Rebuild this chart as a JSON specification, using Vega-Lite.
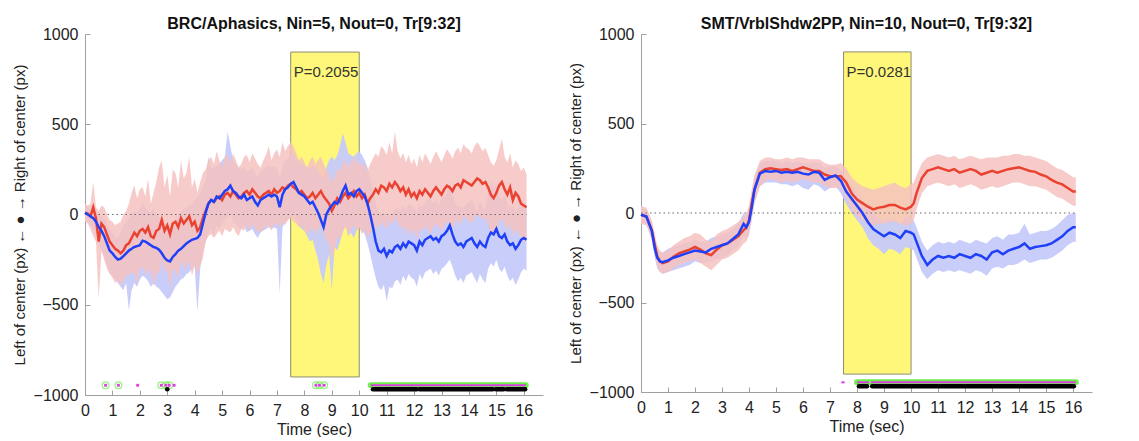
{
  "$schema": "https://vega.github.io/schema/vega-lite/v6.json",
  "padding": {"left": 12, "top": 16, "right": 5, "bottom": 0},
  "background": "white",
  "spacing": 25,
  "config": {
    "view": {"stroke": null},
    "font": "Liberation Sans",
    "axis": {"domainColor": "#a0a0a0", "tickColor": "#a0a0a0", "tickSize": -5, "labelFontSize": 16, "labelColor": "#222", "titleFontSize": 16, "titleFontWeight": "normal", "titleColor": "#222", "grid": false, "labelFlush": false, "labelOverlap": false, "titleLimit": 2000},
    "axisX": {"labelPadding": 12, "titlePadding": 3, "labelOverlap": false, "tickCount": 17},
    "axisY": {"labelPadding": 12, "titlePadding": 6, "titleFontSize": 15},
    "title": {"fontSize": 16, "fontWeight": "bold", "color": "#111", "offset": -6}
  },
  "datasets": {
    "p1": [
{"t":0.0,"r":10,"rl":-40,"rh":60,"b":10,"bl":-30,"bh":60},
{"t":0.1,"r":5,"rl":-50,"rh":50,"b":0,"bl":-40,"bh":40},
{"t":0.2,"r":-10,"rl":-80,"rh":60,"b":-10,"bl":-60,"bh":30},
{"t":0.3,"r":40,"rl":-120,"rh":180,"b":-20,"bl":-80,"bh":30},
{"t":0.4,"r":-20,"rl":-150,"rh":40,"b":-40,"bl":-100,"bh":20},
{"t":0.5,"r":-150,"rl":-470,"rh":20,"b":-70,"bl":-160,"bh":0},
{"t":0.6,"r":-50,"rl":-200,"rh":50,"b":-90,"bl":-200,"bh":-10},
{"t":0.7,"r":-70,"rl":-250,"rh":40,"b":-120,"bl":-230,"bh":-20},
{"t":0.8,"r":-110,"rl":-300,"rh":0,"b":-160,"bl":-280,"bh":-50},
{"t":0.9,"r":-150,"rl":-330,"rh":-30,"b":-200,"bl":-320,"bh":-80},
{"t":1.0,"r":-170,"rl":-350,"rh":-40,"b":-215,"bl":-340,"bh":-100},
{"t":1.1,"r":-190,"rl":-380,"rh":-60,"b":-235,"bl":-360,"bh":-120},
{"t":1.2,"r":-200,"rl":-360,"rh":-50,"b":-250,"bl":-380,"bh":-130},
{"t":1.3,"r":-215,"rl":-400,"rh":-40,"b":-245,"bl":-400,"bh":-100},
{"t":1.4,"r":-200,"rl":-370,"rh":0,"b":-230,"bl":-420,"bh":-60},
{"t":1.5,"r":-170,"rl":-340,"rh":20,"b":-215,"bl":-380,"bh":-40},
{"t":1.6,"r":-160,"rl":-330,"rh":60,"b":-200,"bl":-530,"bh":-20},
{"t":1.7,"r":-130,"rl":-330,"rh":120,"b":-190,"bl":-420,"bh":0},
{"t":1.8,"r":-100,"rl":-320,"rh":160,"b":-180,"bl":-380,"bh":20},
{"t":1.9,"r":-120,"rl":-390,"rh":90,"b":-175,"bl":-400,"bh":10},
{"t":2.0,"r":-90,"rl":-300,"rh":140,"b":-170,"bl":-360,"bh":30},
{"t":2.1,"r":-80,"rl":-290,"rh":150,"b":-145,"bl":-340,"bh":60},
{"t":2.2,"r":-100,"rl":-340,"rh":100,"b":-150,"bl":-350,"bh":40},
{"t":2.3,"r":-70,"rl":-300,"rh":200,"b":-160,"bl":-370,"bh":20},
{"t":2.4,"r":-120,"rl":-320,"rh":60,"b":-170,"bl":-400,"bh":10},
{"t":2.5,"r":-130,"rl":-400,"rh":120,"b":-180,"bl":-380,"bh":30},
{"t":2.6,"r":-90,"rl":-320,"rh":180,"b":-185,"bl":-400,"bh":0},
{"t":2.7,"r":-80,"rl":-330,"rh":260,"b":-195,"bl":-410,"bh":-10},
{"t":2.8,"r":-30,"rl":-250,"rh":300,"b":-215,"bl":-430,"bh":-20},
{"t":2.9,"r":-90,"rl":-330,"rh":150,"b":-240,"bl":-450,"bh":-50},
{"t":3.0,"r":-60,"rl":-290,"rh":220,"b":-255,"bl":-470,"bh":-60},
{"t":3.1,"r":-110,"rl":-420,"rh":100,"b":-260,"bl":-460,"bh":-70},
{"t":3.2,"r":-50,"rl":-320,"rh":250,"b":-235,"bl":-430,"bh":-40},
{"t":3.3,"r":-40,"rl":-300,"rh":230,"b":-220,"bl":-400,"bh":-30},
{"t":3.4,"r":-70,"rl":-360,"rh":150,"b":-200,"bl":-380,"bh":0},
{"t":3.5,"r":-20,"rl":-250,"rh":300,"b":-190,"bl":-360,"bh":10},
{"t":3.6,"r":-50,"rl":-290,"rh":200,"b":-175,"bl":-350,"bh":30},
{"t":3.7,"r":-30,"rl":-300,"rh":230,"b":-160,"bl":-330,"bh":40},
{"t":3.8,"r":-10,"rl":-250,"rh":320,"b":-150,"bl":-320,"bh":50},
{"t":3.9,"r":-60,"rl":-340,"rh":150,"b":-140,"bl":-300,"bh":60},
{"t":4.0,"r":-40,"rl":-280,"rh":200,"b":-135,"bl":-290,"bh":80},
{"t":4.1,"r":-90,"rl":-330,"rh":120,"b":-130,"bl":-540,"bh":100},
{"t":4.2,"r":-70,"rl":-290,"rh":180,"b":-110,"bl":-300,"bh":120},
{"t":4.3,"r":-20,"rl":-240,"rh":230,"b":-50,"bl":-200,"bh":150},
{"t":4.4,"r":20,"rl":-150,"rh":250,"b":10,"bl":-150,"bh":200},
{"t":4.5,"r":60,"rl":-120,"rh":300,"b":60,"bl":-100,"bh":320},
{"t":4.6,"r":80,"rl":-110,"rh":320,"b":80,"bl":-80,"bh":250},
{"t":4.7,"r":70,"rl":-130,"rh":280,"b":70,"bl":-120,"bh":260},
{"t":4.8,"r":90,"rl":-110,"rh":350,"b":100,"bl":-60,"bh":270},
{"t":4.9,"r":100,"rl":-90,"rh":300,"b":90,"bl":-80,"bh":280},
{"t":5.0,"r":80,"rl":-120,"rh":260,"b":110,"bl":-50,"bh":300},
{"t":5.1,"r":110,"rl":-80,"rh":320,"b":130,"bl":-30,"bh":320},
{"t":5.2,"r":120,"rl":-90,"rh":330,"b":140,"bl":-20,"bh":460},
{"t":5.3,"r":100,"rl":-100,"rh":280,"b":160,"bl":0,"bh":380},
{"t":5.4,"r":130,"rl":-70,"rh":340,"b":130,"bl":-40,"bh":300},
{"t":5.5,"r":110,"rl":-100,"rh":300,"b":120,"bl":-50,"bh":280},
{"t":5.6,"r":90,"rl":-120,"rh":260,"b":100,"bl":-70,"bh":260},
{"t":5.7,"r":100,"rl":-80,"rh":280,"b":90,"bl":-80,"bh":250},
{"t":5.8,"r":120,"rl":-90,"rh":320,"b":110,"bl":-60,"bh":260},
{"t":5.9,"r":130,"rl":-60,"rh":330,"b":80,"bl":-100,"bh":240},
{"t":6.0,"r":110,"rl":-90,"rh":290,"b":90,"bl":-90,"bh":250},
{"t":6.1,"r":140,"rl":-50,"rh":340,"b":100,"bl":-80,"bh":260},
{"t":6.2,"r":120,"rl":-80,"rh":310,"b":70,"bl":-110,"bh":230},
{"t":6.3,"r":100,"rl":-90,"rh":280,"b":50,"bl":-130,"bh":210},
{"t":6.4,"r":90,"rl":-100,"rh":260,"b":80,"bl":-100,"bh":240},
{"t":6.5,"r":110,"rl":-80,"rh":300,"b":90,"bl":-90,"bh":250},
{"t":6.6,"r":120,"rl":-70,"rh":330,"b":100,"bl":-80,"bh":260},
{"t":6.7,"r":130,"rl":-60,"rh":380,"b":110,"bl":-70,"bh":270},
{"t":6.8,"r":110,"rl":-90,"rh":300,"b":100,"bl":-80,"bh":260},
{"t":6.9,"r":140,"rl":-50,"rh":340,"b":110,"bl":-70,"bh":270},
{"t":7.0,"r":120,"rl":-60,"rh":360,"b":100,"bl":-80,"bh":260},
{"t":7.1,"r":130,"rl":-70,"rh":320,"b":40,"bl":-440,"bh":200},
{"t":7.2,"r":150,"rl":-40,"rh":400,"b":110,"bl":-70,"bh":270},
{"t":7.3,"r":140,"rl":-60,"rh":350,"b":140,"bl":-40,"bh":300},
{"t":7.4,"r":160,"rl":-30,"rh":380,"b":150,"bl":-30,"bh":310},
{"t":7.5,"r":170,"rl":-20,"rh":400,"b":170,"bl":-10,"bh":330},
{"t":7.6,"r":150,"rl":-40,"rh":380,"b":180,"bl":0,"bh":340},
{"t":7.7,"r":140,"rl":-50,"rh":340,"b":150,"bl":-30,"bh":310},
{"t":7.8,"r":120,"rl":-70,"rh":300,"b":120,"bl":-60,"bh":290},
{"t":7.9,"r":130,"rl":-60,"rh":320,"b":110,"bl":-80,"bh":280},
{"t":8.0,"r":110,"rl":-90,"rh":290,"b":100,"bl":-90,"bh":270},
{"t":8.1,"r":90,"rl":-110,"rh":260,"b":80,"bl":-120,"bh":260},
{"t":8.2,"r":100,"rl":-90,"rh":300,"b":60,"bl":-150,"bh":250},
{"t":8.3,"r":120,"rl":-70,"rh":320,"b":70,"bl":-140,"bh":270},
{"t":8.4,"r":90,"rl":-110,"rh":280,"b":40,"bl":-200,"bh":260},
{"t":8.5,"r":110,"rl":-80,"rh":300,"b":10,"bl":-250,"bh":240},
{"t":8.6,"r":130,"rl":-60,"rh":320,"b":-30,"bl":-330,"bh":220},
{"t":8.7,"r":100,"rl":-100,"rh":280,"b":-70,"bl":-380,"bh":200},
{"t":8.8,"r":80,"rl":-140,"rh":250,"b":0,"bl":-280,"bh":260},
{"t":8.9,"r":60,"rl":-160,"rh":220,"b":30,"bl":-220,"bh":300},
{"t":9.0,"r":20,"rl":-250,"rh":180,"b":50,"bl":-420,"bh":320},
{"t":9.1,"r":50,"rl":-200,"rh":200,"b":70,"bl":-180,"bh":300},
{"t":9.2,"r":90,"rl":-120,"rh":260,"b":60,"bl":-200,"bh":330},
{"t":9.3,"r":70,"rl":-140,"rh":230,"b":90,"bl":-150,"bh":380},
{"t":9.4,"r":100,"rl":-90,"rh":280,"b":130,"bl":-100,"bh":450},
{"t":9.5,"r":120,"rl":-70,"rh":300,"b":160,"bl":-60,"bh":400},
{"t":9.6,"r":90,"rl":-110,"rh":260,"b":110,"bl":-120,"bh":340},
{"t":9.7,"r":110,"rl":-80,"rh":290,"b":120,"bl":-100,"bh":330},
{"t":9.8,"r":130,"rl":-60,"rh":320,"b":100,"bl":-130,"bh":320},
{"t":9.9,"r":100,"rl":-90,"rh":280,"b":130,"bl":-90,"bh":340},
{"t":10.0,"r":120,"rl":-70,"rh":300,"b":140,"bl":-70,"bh":350},
{"t":10.1,"r":90,"rl":-110,"rh":260,"b":120,"bl":-90,"bh":330},
{"t":10.2,"r":110,"rl":-80,"rh":290,"b":100,"bl":-110,"bh":300},
{"t":10.3,"r":60,"rl":-130,"rh":240,"b":60,"bl":-160,"bh":260},
{"t":10.4,"r":90,"rl":-100,"rh":280,"b":0,"bl":-220,"bh":200},
{"t":10.5,"r":110,"rl":-90,"rh":310,"b":-70,"bl":-290,"bh":130},
{"t":10.6,"r":140,"rl":-60,"rh":340,"b":-150,"bl":-350,"bh":60},
{"t":10.7,"r":120,"rl":-80,"rh":320,"b":-200,"bl":-400,"bh":20},
{"t":10.8,"r":160,"rl":-40,"rh":380,"b":-210,"bl":-420,"bh":0},
{"t":10.9,"r":150,"rl":-60,"rh":360,"b":-190,"bl":-390,"bh":20},
{"t":11.0,"r":130,"rl":-80,"rh":330,"b":-230,"bl":-480,"bh":-20},
{"t":11.1,"r":170,"rl":-30,"rh":400,"b":-200,"bl":-400,"bh":10},
{"t":11.2,"r":150,"rl":-60,"rh":340,"b":-210,"bl":-410,"bh":0},
{"t":11.3,"r":180,"rl":-20,"rh":460,"b":-180,"bl":-370,"bh":30},
{"t":11.4,"r":160,"rl":-40,"rh":350,"b":-170,"bl":-360,"bh":40},
{"t":11.5,"r":130,"rl":-80,"rh":310,"b":-190,"bl":-390,"bh":20},
{"t":11.6,"r":150,"rl":-60,"rh":340,"b":-160,"bl":-340,"bh":50},
{"t":11.7,"r":110,"rl":-110,"rh":290,"b":-180,"bl":-370,"bh":30},
{"t":11.8,"r":140,"rl":-70,"rh":330,"b":-150,"bl":-330,"bh":60},
{"t":11.9,"r":100,"rl":-120,"rh":280,"b":-160,"bl":-350,"bh":50},
{"t":12.0,"r":120,"rl":-80,"rh":310,"b":-170,"bl":-360,"bh":40},
{"t":12.1,"r":90,"rl":-140,"rh":260,"b":-200,"bl":-400,"bh":10},
{"t":12.2,"r":130,"rl":-70,"rh":330,"b":-150,"bl":-330,"bh":60},
{"t":12.3,"r":110,"rl":-100,"rh":290,"b":-170,"bl":-360,"bh":40},
{"t":12.4,"r":140,"rl":-60,"rh":340,"b":-140,"bl":-320,"bh":70},
{"t":12.5,"r":120,"rl":-80,"rh":310,"b":-130,"bl":-310,"bh":80},
{"t":12.6,"r":100,"rl":-110,"rh":280,"b":-120,"bl":-300,"bh":90},
{"t":12.7,"r":130,"rl":-70,"rh":320,"b":-140,"bl":-330,"bh":60},
{"t":12.8,"r":150,"rl":-50,"rh":350,"b":-130,"bl":-310,"bh":80},
{"t":12.9,"r":130,"rl":-70,"rh":320,"b":-150,"bl":-340,"bh":50},
{"t":13.0,"r":110,"rl":-90,"rh":290,"b":-120,"bl":-300,"bh":90},
{"t":13.1,"r":140,"rl":-60,"rh":330,"b":-110,"bl":-290,"bh":100},
{"t":13.2,"r":160,"rl":-40,"rh":360,"b":-90,"bl":-270,"bh":120},
{"t":13.3,"r":150,"rl":-50,"rh":340,"b":-60,"bl":-250,"bh":180},
{"t":13.4,"r":130,"rl":-80,"rh":310,"b":-110,"bl":-290,"bh":120},
{"t":13.5,"r":160,"rl":-40,"rh":350,"b":-150,"bl":-340,"bh":60},
{"t":13.6,"r":170,"rl":-30,"rh":370,"b":-170,"bl":-370,"bh":40},
{"t":13.7,"r":150,"rl":-60,"rh":340,"b":-160,"bl":-350,"bh":50},
{"t":13.8,"r":190,"rl":-10,"rh":390,"b":-180,"bl":-380,"bh":30},
{"t":13.9,"r":180,"rl":-20,"rh":370,"b":-150,"bl":-340,"bh":60},
{"t":14.0,"r":170,"rl":-40,"rh":360,"b":-140,"bl":-330,"bh":70},
{"t":14.1,"r":160,"rl":-50,"rh":340,"b":-130,"bl":-320,"bh":80},
{"t":14.2,"r":180,"rl":-20,"rh":380,"b":-160,"bl":-350,"bh":50},
{"t":14.3,"r":200,"rl":0,"rh":400,"b":-180,"bl":-380,"bh":20},
{"t":14.4,"r":190,"rl":-10,"rh":380,"b":-150,"bl":-330,"bh":70},
{"t":14.5,"r":170,"rl":-30,"rh":350,"b":-170,"bl":-360,"bh":40},
{"t":14.6,"r":180,"rl":-20,"rh":370,"b":-180,"bl":-380,"bh":30},
{"t":14.7,"r":150,"rl":-60,"rh":330,"b":-130,"bl":-300,"bh":120},
{"t":14.8,"r":110,"rl":-100,"rh":290,"b":-100,"bl":-270,"bh":190},
{"t":14.9,"r":90,"rl":-120,"rh":270,"b":-110,"bl":-290,"bh":150},
{"t":15.0,"r":120,"rl":-90,"rh":300,"b":-80,"bl":-250,"bh":170},
{"t":15.1,"r":160,"rl":-40,"rh":360,"b":-120,"bl":-300,"bh":100},
{"t":15.2,"r":180,"rl":-20,"rh":420,"b":-130,"bl":-320,"bh":80},
{"t":15.3,"r":140,"rl":-60,"rh":320,"b":-110,"bl":-290,"bh":110},
{"t":15.4,"r":110,"rl":-90,"rh":290,"b":-150,"bl":-340,"bh":60},
{"t":15.5,"r":150,"rl":-50,"rh":340,"b":-170,"bl":-370,"bh":40},
{"t":15.6,"r":80,"rl":-120,"rh":260,"b":-160,"bl":-350,"bh":50},
{"t":15.7,"r":120,"rl":-80,"rh":300,"b":-190,"bl":-390,"bh":20},
{"t":15.8,"r":100,"rl":-100,"rh":280,"b":-170,"bl":-360,"bh":40},
{"t":15.9,"r":60,"rl":-130,"rh":240,"b":-140,"bl":-320,"bh":70},
{"t":16.0,"r":50,"rl":-150,"rh":260,"b":-130,"bl":-300,"bh":70},
{"t":16.1,"r":40,"rl":-140,"rh":220,"b":-140,"bl":-310,"bh":50}
    ],
    "p2": [
{"t":0.0,"r":-10,"rl":-60,"rh":40,"b":-10,"bl":-50,"bh":30},
{"t":0.2,"r":-20,"rl":-70,"rh":30,"b":-20,"bl":-60,"bh":20},
{"t":0.4,"r":-95,"rl":-150,"rh":-40,"b":-100,"bl":-150,"bh":-60},
{"t":0.5,"r":-170,"rl":-230,"rh":-110,"b":-190,"bl":-240,"bh":-140},
{"t":0.6,"r":-240,"rl":-300,"rh":-180,"b":-250,"bl":-310,"bh":-200},
{"t":0.7,"r":-270,"rl":-330,"rh":-210,"b":-270,"bl":-330,"bh":-220},
{"t":0.8,"r":-280,"rl":-340,"rh":-220,"b":-275,"bl":-340,"bh":-220},
{"t":1.0,"r":-270,"rl":-330,"rh":-210,"b":-265,"bl":-330,"bh":-200},
{"t":1.2,"r":-245,"rl":-310,"rh":-180,"b":-250,"bl":-320,"bh":-190},
{"t":1.4,"r":-225,"rl":-290,"rh":-160,"b":-240,"bl":-310,"bh":-180},
{"t":1.6,"r":-215,"rl":-280,"rh":-140,"b":-230,"bl":-300,"bh":-170},
{"t":1.8,"r":-205,"rl":-270,"rh":-130,"b":-220,"bl":-290,"bh":-160},
{"t":2.0,"r":-190,"rl":-260,"rh":-110,"b":-210,"bl":-270,"bh":-150},
{"t":2.2,"r":-205,"rl":-280,"rh":-120,"b":-215,"bl":-280,"bh":-160},
{"t":2.4,"r":-225,"rl":-300,"rh":-150,"b":-220,"bl":-280,"bh":-160},
{"t":2.6,"r":-235,"rl":-320,"rh":-160,"b":-200,"bl":-270,"bh":-140},
{"t":2.8,"r":-205,"rl":-290,"rh":-120,"b":-190,"bl":-260,"bh":-130},
{"t":3.0,"r":-180,"rl":-260,"rh":-100,"b":-180,"bl":-250,"bh":-120},
{"t":3.2,"r":-170,"rl":-250,"rh":-90,"b":-170,"bl":-240,"bh":-110},
{"t":3.4,"r":-150,"rl":-230,"rh":-70,"b":-145,"bl":-210,"bh":-90},
{"t":3.6,"r":-130,"rl":-210,"rh":-50,"b":-120,"bl":-190,"bh":-60},
{"t":3.8,"r":-95,"rl":-170,"rh":-20,"b":-60,"bl":-130,"bh":0},
{"t":3.9,"r":-80,"rl":-160,"rh":0,"b":-80,"bl":-150,"bh":-20},
{"t":4.0,"r":-40,"rl":-120,"rh":40,"b":-50,"bl":-120,"bh":20},
{"t":4.1,"r":55,"rl":-30,"rh":130,"b":30,"bl":-40,"bh":100},
{"t":4.2,"r":130,"rl":50,"rh":210,"b":130,"bl":60,"bh":200},
{"t":4.4,"r":225,"rl":150,"rh":290,"b":220,"bl":150,"bh":280},
{"t":4.6,"r":245,"rl":180,"rh":310,"b":235,"bl":170,"bh":290},
{"t":4.8,"r":250,"rl":190,"rh":310,"b":230,"bl":170,"bh":290},
{"t":5.0,"r":245,"rl":180,"rh":300,"b":235,"bl":170,"bh":290},
{"t":5.2,"r":240,"rl":170,"rh":300,"b":225,"bl":160,"bh":280},
{"t":5.4,"r":245,"rl":180,"rh":310,"b":230,"bl":160,"bh":290},
{"t":5.6,"r":235,"rl":170,"rh":300,"b":225,"bl":150,"bh":280},
{"t":5.8,"r":245,"rl":180,"rh":310,"b":230,"bl":160,"bh":285},
{"t":6.0,"r":255,"rl":190,"rh":310,"b":220,"bl":140,"bh":280},
{"t":6.2,"r":245,"rl":180,"rh":300,"b":215,"bl":130,"bh":275},
{"t":6.4,"r":235,"rl":170,"rh":300,"b":230,"bl":160,"bh":285},
{"t":6.6,"r":235,"rl":170,"rh":300,"b":225,"bl":150,"bh":280},
{"t":6.8,"r":215,"rl":150,"rh":280,"b":185,"bl":120,"bh":250},
{"t":7.0,"r":205,"rl":140,"rh":270,"b":200,"bl":140,"bh":260},
{"t":7.2,"r":205,"rl":140,"rh":270,"b":210,"bl":150,"bh":260},
{"t":7.4,"r":205,"rl":140,"rh":280,"b":180,"bl":110,"bh":240},
{"t":7.6,"r":170,"rl":90,"rh":250,"b":120,"bl":50,"bh":190},
{"t":7.8,"r":110,"rl":20,"rh":200,"b":80,"bl":0,"bh":150},
{"t":8.0,"r":75,"rl":-20,"rh":170,"b":40,"bl":-40,"bh":110},
{"t":8.2,"r":55,"rl":-40,"rh":150,"b":0,"bl":-80,"bh":70},
{"t":8.4,"r":35,"rl":-60,"rh":140,"b":-50,"bl":-140,"bh":30},
{"t":8.6,"r":20,"rl":-70,"rh":130,"b":-90,"bl":-180,"bh":0},
{"t":8.8,"r":30,"rl":-60,"rh":140,"b":-110,"bl":-200,"bh":-30},
{"t":9.0,"r":35,"rl":-60,"rh":150,"b":-130,"bl":-230,"bh":-50},
{"t":9.2,"r":45,"rl":-50,"rh":160,"b":-110,"bl":-200,"bh":-30},
{"t":9.4,"r":45,"rl":-50,"rh":170,"b":-120,"bl":-210,"bh":-40},
{"t":9.6,"r":30,"rl":-60,"rh":150,"b":-140,"bl":-230,"bh":-60},
{"t":9.8,"r":20,"rl":-70,"rh":140,"b":-100,"bl":-190,"bh":-20},
{"t":10.0,"r":35,"rl":-60,"rh":160,"b":-110,"bl":-200,"bh":-30},
{"t":10.1,"r":55,"rl":-40,"rh":170,"b":-120,"bl":-210,"bh":-40},
{"t":10.2,"r":110,"rl":20,"rh":210,"b":-160,"bl":-250,"bh":-80},
{"t":10.4,"r":195,"rl":110,"rh":280,"b":-240,"bl":-330,"bh":-160},
{"t":10.6,"r":235,"rl":150,"rh":310,"b":-290,"bl":-370,"bh":-210},
{"t":10.8,"r":245,"rl":160,"rh":320,"b":-260,"bl":-340,"bh":-180},
{"t":11.0,"r":255,"rl":170,"rh":330,"b":-240,"bl":-320,"bh":-160},
{"t":11.2,"r":245,"rl":160,"rh":320,"b":-250,"bl":-330,"bh":-170},
{"t":11.4,"r":235,"rl":150,"rh":310,"b":-240,"bl":-320,"bh":-160},
{"t":11.6,"r":245,"rl":160,"rh":320,"b":-250,"bl":-330,"bh":-170},
{"t":11.8,"r":225,"rl":140,"rh":300,"b":-230,"bl":-320,"bh":-150},
{"t":12.0,"r":235,"rl":150,"rh":310,"b":-240,"bl":-330,"bh":-160},
{"t":12.2,"r":245,"rl":160,"rh":320,"b":-250,"bl":-340,"bh":-170},
{"t":12.4,"r":235,"rl":150,"rh":310,"b":-230,"bl":-320,"bh":-150},
{"t":12.6,"r":215,"rl":130,"rh":300,"b":-240,"bl":-330,"bh":-160},
{"t":12.8,"r":225,"rl":140,"rh":310,"b":-260,"bl":-350,"bh":-170},
{"t":13.0,"r":235,"rl":150,"rh":310,"b":-220,"bl":-310,"bh":-140},
{"t":13.2,"r":225,"rl":140,"rh":310,"b":-210,"bl":-300,"bh":-130},
{"t":13.4,"r":235,"rl":150,"rh":320,"b":-230,"bl":-310,"bh":-150},
{"t":13.6,"r":245,"rl":160,"rh":320,"b":-210,"bl":-290,"bh":-120},
{"t":13.8,"r":250,"rl":170,"rh":330,"b":-200,"bl":-290,"bh":-120},
{"t":14.0,"r":255,"rl":170,"rh":330,"b":-190,"bl":-280,"bh":-110},
{"t":14.2,"r":245,"rl":160,"rh":320,"b":-170,"bl":-260,"bh":-60},
{"t":14.4,"r":235,"rl":150,"rh":320,"b":-200,"bl":-280,"bh":-120},
{"t":14.6,"r":230,"rl":150,"rh":310,"b":-190,"bl":-270,"bh":-110},
{"t":14.8,"r":215,"rl":140,"rh":300,"b":-185,"bl":-260,"bh":-100},
{"t":15.0,"r":205,"rl":130,"rh":290,"b":-180,"bl":-260,"bh":-100},
{"t":15.2,"r":185,"rl":110,"rh":270,"b":-170,"bl":-250,"bh":-90},
{"t":15.4,"r":170,"rl":90,"rh":250,"b":-150,"bl":-230,"bh":-70},
{"t":15.6,"r":160,"rl":80,"rh":240,"b":-130,"bl":-210,"bh":-40},
{"t":15.8,"r":140,"rl":60,"rh":220,"b":-100,"bl":-180,"bh":-10},
{"t":16.0,"r":120,"rl":40,"rh":200,"b":-80,"bl":-160,"bh":0},
{"t":16.1,"r":120,"rl":40,"rh":200,"b":-80,"bl":-160,"bh":0}
    ],
    "box1": [{"x0":7.5,"x1":10,"y0":-900,"y1":900,"label":"P=0.2055"}],
    "box2": [{"x0":7.5,"x1":10,"y0":-900,"y1":900,"label":"P=0.0281"}],
    "m1": [{"t":0.75,"k":"c"},{"t":1.22,"k":"c"},{"t":2.78,"k":"c"},{"t":2.95,"k":"c"},{"t":3.07,"k":"c"},{"t":8.42,"k":"c"},{"t":8.55,"k":"c"},{"t":8.72,"k":"c"},{"t":1.92,"k":"m"},{"t":3.25,"k":"m"},{"t":3.0,"k":"b"}],
    "s1": [{"a":10.42,"b":16.07,"k":"g"},{"a":10.5,"b":12.1,"k":"k"},{"a":12.2,"b":14.87,"k":"k"},{"a":14.98,"b":15.27,"k":"k"},{"a":15.38,"b":16.05,"k":"k"}],
    "s2": [{"a":8.0,"b":8.44,"k":"g"},{"a":8.52,"b":16.1,"k":"g"},{"a":8.07,"b":8.37,"k":"k"},{"a":8.56,"b":16.03,"k":"k"},{"a":7.42,"b":7.54,"k":"m"}]
  },
  "hconcat": [
    {
      "width": 458, "height": 361,
      "title": "BRC/Aphasics, Nin=5, Nout=0, Tr[9:32]",
      "layer": [
        {"data": {"name": "box1"}, "mark": {"type": "rect", "fill": "#FFF77A", "stroke": "#8d8d70", "strokeWidth": 1},
         "encoding": {
           "x": {"field": "x0", "type": "quantitative", "title": "Time (sec)", "scale": {"domain": [0, 16.7], "nice": false, "zero": false}, "axis": {"values": [0,1,2,3,4,5,6,7,8,9,10,11,12,13,14,15,16], "tickCount": 17, "labelOverlap": false, "labelSeparation": 0, "format": "d"}},
           "x2": {"field": "x1"},
           "y": {"field": "y0", "type": "quantitative", "title": "Left of center (px) ← ● → Right of center (px)", "scale": {"domain": [-1000, 1000], "nice": false, "zero": false}, "axis": {"values": [-1000,-500,0,500,1000], "format": "d", "labelOverlap": false, "titleLimit": 2000, "titleFontSize": 15}},
           "y2": {"field": "y1"}}},
        {"data": {"name": "box1"}, "mark": {"type": "text", "align": "left", "baseline": "middle", "dx": 3, "fontSize": 15, "color": "#333"},
         "encoding": {"x": {"field": "x0", "type": "quantitative", "title": "Time (sec)"}, "y": {"datum": 790, "type": "quantitative", "title": "Left of center (px) ← ● → Right of center (px)"}, "text": {"field": "label"}}},
        {"data": {"name": "p1"}, "mark": {"type": "area", "color": "#C6CAFA", "opacity": 0.95},
         "encoding": {"x": {"field": "t", "type": "quantitative", "title": "Time (sec)"}, "y": {"field": "bl", "type": "quantitative", "title": "Left of center (px) ← ● → Right of center (px)"}, "y2": {"field": "bh"}}},
        {"data": {"name": "p1"}, "mark": {"type": "area", "color": "#F6C2C0", "opacity": 0.85},
         "encoding": {"x": {"field": "t", "type": "quantitative", "title": "Time (sec)"}, "y": {"field": "rl", "type": "quantitative", "title": "Left of center (px) ← ● → Right of center (px)"}, "y2": {"field": "rh"}}},
        {"data": {"name": "box1"}, "mark": {"type": "rule", "color": "#666", "strokeDash": [1.5, 3], "strokeWidth": 1.2},
         "encoding": {"x": {"datum": 0, "type": "quantitative", "title": "Time (sec)"}, "x2": {"datum": 16.1}, "y": {"datum": 0, "type": "quantitative", "title": "Left of center (px) ← ● → Right of center (px)"}}},
        {"data": {"name": "p1"}, "mark": {"type": "line", "color": "#EA4230", "strokeWidth": 2.5},
         "encoding": {"x": {"field": "t", "type": "quantitative", "title": "Time (sec)"}, "y": {"field": "r", "type": "quantitative", "title": "Left of center (px) ← ● → Right of center (px)"}}},
        {"data": {"name": "p1"}, "mark": {"type": "line", "color": "#2040F8", "strokeWidth": 2.5},
         "encoding": {"x": {"field": "t", "type": "quantitative", "title": "Time (sec)"}, "y": {"field": "b", "type": "quantitative", "title": "Left of center (px) ← ● → Right of center (px)"}}},
        {"data": {"name": "s1"}, "transform": [{"filter": "datum.k === 'g'"}], "mark": {"type": "rule", "color": "#6CF04A", "strokeWidth": 6, "strokeCap": "round"},
         "encoding": {"x": {"field": "a", "type": "quantitative", "title": "Time (sec)"}, "x2": {"field": "b"}, "y": {"datum": -946, "type": "quantitative", "title": "Left of center (px) ← ● → Right of center (px)"}}},
        {"data": {"name": "s1"}, "transform": [{"filter": "datum.k === 'g'"}], "mark": {"type": "rule", "color": "#E03CE6", "strokeWidth": 2},
         "encoding": {"x": {"field": "a", "type": "quantitative", "title": "Time (sec)"}, "x2": {"field": "b"}, "y": {"datum": -946, "type": "quantitative", "title": "Left of center (px) ← ● → Right of center (px)"}}},
        {"data": {"name": "s1"}, "transform": [{"filter": "datum.k === 'k'"}], "mark": {"type": "rule", "color": "#000000", "strokeWidth": 4.5, "strokeCap": "round"},
         "encoding": {"x": {"field": "a", "type": "quantitative", "title": "Time (sec)"}, "x2": {"field": "b"}, "y": {"datum": -968, "type": "quantitative", "title": "Left of center (px) ← ● → Right of center (px)"}}},
        {"data": {"name": "m1"}, "transform": [{"filter": "datum.k === 'c'"}], "mark": {"type": "point", "shape": "circle", "filled": false, "color": "#6CF04A", "size": 45, "strokeWidth": 1.3},
         "encoding": {"x": {"field": "t", "type": "quantitative", "title": "Time (sec)"}, "y": {"datum": -946, "type": "quantitative", "title": "Left of center (px) ← ● → Right of center (px)"}}},
        {"data": {"name": "m1"}, "transform": [{"filter": "datum.k !== 'b'"}], "mark": {"type": "point", "shape": "square", "filled": true, "color": "#E03CE6", "size": 8, "opacity": 1},
         "encoding": {"x": {"field": "t", "type": "quantitative", "title": "Time (sec)"}, "y": {"datum": -946, "type": "quantitative", "title": "Left of center (px) ← ● → Right of center (px)"}}},
        {"data": {"name": "m1"}, "transform": [{"filter": "datum.k === 'b'"}], "mark": {"type": "point", "shape": "circle", "filled": true, "color": "#000000", "size": 22, "opacity": 1},
         "encoding": {"x": {"field": "t", "type": "quantitative", "title": "Time (sec)"}, "y": {"datum": -968, "type": "quantitative", "title": "Left of center (px) ← ● → Right of center (px)"}}}
      ]
    },
    {
      "width": 451, "height": 358,
      "title": "SMT/VrblShdw2PP, Nin=10, Nout=0, Tr[9:32]",
      "layer": [
        {"data": {"name": "box2"}, "mark": {"type": "rect", "fill": "#FFF77A", "stroke": "#8d8d70", "strokeWidth": 1},
         "encoding": {
           "x": {"field": "x0", "type": "quantitative", "title": "Time (sec)", "scale": {"domain": [0, 16.7], "nice": false, "zero": false}, "axis": {"values": [0,1,2,3,4,5,6,7,8,9,10,11,12,13,14,15,16], "tickCount": 17, "labelOverlap": false, "labelSeparation": 0, "format": "d"}},
           "x2": {"field": "x1"},
           "y": {"field": "y0", "type": "quantitative", "title": "Left of center (px) ← ● → Right of center (px)", "scale": {"domain": [-1000, 1000], "nice": false, "zero": false}, "axis": {"values": [-1000,-500,0,500,1000], "format": "d", "labelOverlap": false, "titleLimit": 2000, "titleFontSize": 15}},
           "y2": {"field": "y1"}}},
        {"data": {"name": "box2"}, "mark": {"type": "text", "align": "left", "baseline": "middle", "dx": 3, "fontSize": 15, "color": "#333"},
         "encoding": {"x": {"field": "x0", "type": "quantitative", "title": "Time (sec)"}, "y": {"datum": 790, "type": "quantitative", "title": "Left of center (px) ← ● → Right of center (px)"}, "text": {"field": "label"}}},
        {"data": {"name": "p2"}, "mark": {"type": "area", "color": "#C6CAFA", "opacity": 0.95},
         "encoding": {"x": {"field": "t", "type": "quantitative", "title": "Time (sec)"}, "y": {"field": "bl", "type": "quantitative", "title": "Left of center (px) ← ● → Right of center (px)"}, "y2": {"field": "bh"}}},
        {"data": {"name": "p2"}, "mark": {"type": "area", "color": "#F6C2C0", "opacity": 0.85},
         "encoding": {"x": {"field": "t", "type": "quantitative", "title": "Time (sec)"}, "y": {"field": "rl", "type": "quantitative", "title": "Left of center (px) ← ● → Right of center (px)"}, "y2": {"field": "rh"}}},
        {"data": {"name": "box2"}, "mark": {"type": "rule", "color": "#666", "strokeDash": [1.5, 3], "strokeWidth": 1.2},
         "encoding": {"x": {"datum": 0, "type": "quantitative", "title": "Time (sec)"}, "x2": {"datum": 16.1}, "y": {"datum": 0, "type": "quantitative", "title": "Left of center (px) ← ● → Right of center (px)"}}},
        {"data": {"name": "p2"}, "mark": {"type": "line", "color": "#EA4230", "strokeWidth": 2.5},
         "encoding": {"x": {"field": "t", "type": "quantitative", "title": "Time (sec)"}, "y": {"field": "r", "type": "quantitative", "title": "Left of center (px) ← ● → Right of center (px)"}}},
        {"data": {"name": "p2"}, "mark": {"type": "line", "color": "#2040F8", "strokeWidth": 2.5},
         "encoding": {"x": {"field": "t", "type": "quantitative", "title": "Time (sec)"}, "y": {"field": "b", "type": "quantitative", "title": "Left of center (px) ← ● → Right of center (px)"}}},
        {"data": {"name": "s2"}, "transform": [{"filter": "datum.k === 'g'"}], "mark": {"type": "rule", "color": "#6CF04A", "strokeWidth": 6, "strokeCap": "round"},
         "encoding": {"x": {"field": "a", "type": "quantitative", "title": "Time (sec)"}, "x2": {"field": "b"}, "y": {"datum": -946, "type": "quantitative", "title": "Left of center (px) ← ● → Right of center (px)"}}},
        {"data": {"name": "s2"}, "transform": [{"filter": "datum.k !== 'k'"}], "mark": {"type": "rule", "color": "#E03CE6", "strokeWidth": 2},
         "encoding": {"x": {"field": "a", "type": "quantitative", "title": "Time (sec)"}, "x2": {"field": "b"}, "y": {"datum": -946, "type": "quantitative", "title": "Left of center (px) ← ● → Right of center (px)"}}},
        {"data": {"name": "s2"}, "transform": [{"filter": "datum.k === 'k'"}], "mark": {"type": "rule", "color": "#000000", "strokeWidth": 4.5, "strokeCap": "round"},
         "encoding": {"x": {"field": "a", "type": "quantitative", "title": "Time (sec)"}, "x2": {"field": "b"}, "y": {"datum": -968, "type": "quantitative", "title": "Left of center (px) ← ● → Right of center (px)"}}}
      ]
    }
  ]
}
